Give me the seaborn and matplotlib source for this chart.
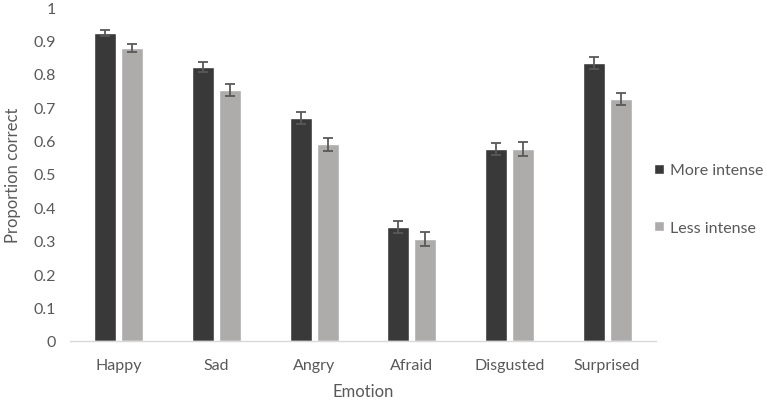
import matplotlib.pyplot as plt
import seaborn as sns
import pandas as pd
import numpy as np

# values
emotions = ["Happy", "Sad", "Angry", "Afraid", "Disgusted", "Surprised"]
more_intense = [0.922, 0.820, 0.668, 0.341, 0.575, 0.832]
less_intense = [0.877, 0.751, 0.589, 0.305, 0.575, 0.725]
more_err = [0.009, 0.015, 0.017, 0.018, 0.019, 0.017]
less_err = [0.012, 0.017, 0.020, 0.020, 0.021, 0.018]
levels = ["More intense", "Less intense"]

df = pd.DataFrame({
    "Emotion": emotions * 2,
    "Proportion": more_intense + less_intense,
    "Intensity": [levels[0]] * 6 + [levels[1]] * 6,
})
errs = {levels[0]: more_err, levels[1]: less_err}

sns.set_theme(style="white")
plt.rcParams['font.family'] = ['Lato', 'DejaVu Sans']
txt = "#595959"

fig = plt.figure(figsize=(7.67, 4.02), dpi=100)
ax = fig.add_axes([70 / 767, 60 / 402, 586 / 767, 334 / 402])

sns.barplot(df, x="Emotion", y="Proportion", hue="Intensity", order=emotions,
            hue_order=levels, palette=["#3a3939", "#aeabab"], width=0.55, gap=0.18,
            saturation=1, errorbar=None, ax=ax)

bar_groups = list(ax.containers)
# error bars on top of each bar
for cont, lev in zip(bar_groups, levels):
    xs = [p.get_x() + p.get_width() / 2 for p in cont]
    hs = [p.get_height() for p in cont]
    ax.errorbar(xs, hs, yerr=errs[lev], fmt="none", ecolor="#595959",
                elinewidth=1.3, capsize=3.5, capthick=1.3)

ax.set_ylim(0, 1)
ax.set_xlim(-0.5, 5.5)
ax.set_yticks(np.arange(0, 1.01, 0.1))
ax.set_yticklabels(["0"] + [f"{v:.1f}" for v in np.arange(0.1, 0.95, 0.1)] + ["1"])
for s in ["top", "right", "left"]:
    ax.spines[s].set_visible(False)
ax.spines["bottom"].set_color("#d9d9d9")
ax.spines["bottom"].set_linewidth(1)
ax.tick_params(axis="both", length=0, colors=txt, labelsize=11.5, pad=12)
ax.tick_params(axis="y", pad=10)
ax.set_xlabel("Emotion", color=txt, fontsize=12, labelpad=8)
ax.set_ylabel("Proportion correct", color=txt, fontsize=12, labelpad=9)

ax.legend_.remove()
handles = [cont.patches[0] for cont in bar_groups]
fig.legend(handles, levels, loc="center left", bbox_to_anchor=(654 / 767, 202 / 402),
           frameon=False, fontsize=11.5, labelcolor=txt, handlelength=0.6,
           handleheight=0.6, handletextpad=0.4, labelspacing=2.7,
           borderpad=0, borderaxespad=0)

plt.savefig("out.png", dpi=100)
